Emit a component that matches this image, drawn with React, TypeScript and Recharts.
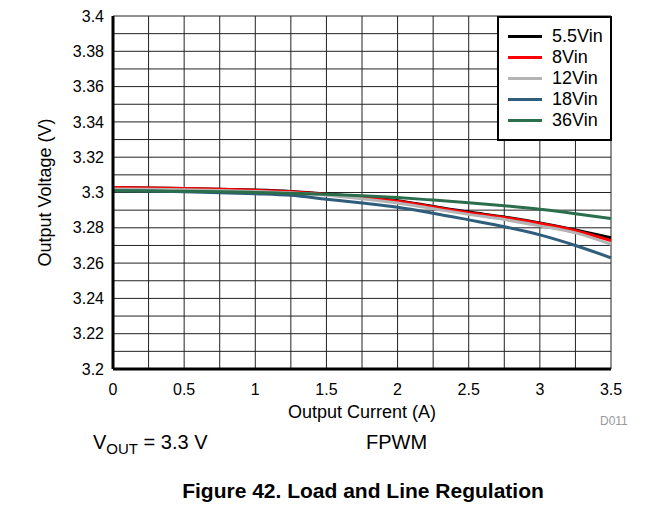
import React from "react";
import {
    LineChart,
    Line,
    XAxis,
    YAxis,
    CartesianGrid,
    Legend,
} from "recharts";

// output current (A)
const current = [0, 0.25, 0.5, 0.75, 1, 1.25, 1.5, 1.75, 2, 2.25, 2.5, 2.75, 3, 3.25, 3.5];

// output voltage (V) per input voltage
const vin5v5 = [3.3028, 3.3026, 3.3023, 3.3019, 3.3014, 3.3006, 3.2992, 3.2974, 3.2954, 3.2921, 3.2889, 3.2861, 3.2827, 3.2787, 3.2744];
const vin8 = [3.3028, 3.3026, 3.3023, 3.3019, 3.3013, 3.3004, 3.299, 3.2971, 3.295, 3.2918, 3.2886, 3.2858, 3.2824, 3.2783, 3.2727];
const vin12 = [3.302, 3.3018, 3.3015, 3.3011, 3.3006, 3.2998, 3.2984, 3.2965, 3.294, 3.2908, 3.2876, 3.2847, 3.2811, 3.2771, 3.2707];
const vin18 = [3.301, 3.3008, 3.3004, 3.2999, 3.2993, 3.2984, 3.2962, 3.2941, 3.2917, 3.2883, 3.2845, 3.2806, 3.276, 3.27, 3.263];
const vin36 = [3.301, 3.3009, 3.3007, 3.3004, 3.3, 3.2995, 3.299, 3.2982, 3.2971, 3.2957, 3.2942, 3.2925, 3.2905, 3.288, 3.2852];

const seriesNames = ["5.5Vin", "8Vin", "12Vin", "18Vin", "36Vin"];
const seriesColors = ["#000000", "#ff0000", "#b4b4b4", "#2f5d7c", "#2b6e4c"];

const xTicks = [0, 0.25, 0.5, 0.75, 1, 1.25, 1.5, 1.75, 2, 2.25, 2.5, 2.75, 3, 3.25, 3.5];
const yTicks = [3.2, 3.21, 3.22, 3.23, 3.24, 3.25, 3.26, 3.27, 3.28, 3.29, 3.3, 3.31, 3.32, 3.33, 3.34, 3.35, 3.36, 3.37, 3.38, 3.39, 3.4];

const data = current.map((c, i) => ({
    current: c,
    s0: vin5v5[i],
    s1: vin8[i],
    s2: vin12[i],
    s3: vin18[i],
    s4: vin36[i],
}));

const font = "'Liberation Sans', Arial, sans-serif";

const LegendBox = ({payload}: any) => (
    <div
        style={{
            background: "#fff",
            border: "2px solid #000",
            padding: "8px 0 8px 9px",
            fontFamily: font,
            fontSize: 18,
            color: "#000",
            boxSizing: "border-box",
            width: 115,
        }}
    >
        {(payload || []).map((e: any) => (
            <div key={e.value} style={{display: "flex", alignItems: "center", height: 21}}>
                <span style={{width: 34, height: 3, background: e.color, marginRight: 10}}/>
                <span>{e.value}</span>
            </div>
        ))}
    </div>
);

const App = () => {
    const fmtX = (v: number) => (Math.round(v * 4) % 2 === 0 ? String(v) : "");
    const fmtY = (v: number) => (Math.round(v * 100) % 2 === 0 ? String(+v.toFixed(2)) : "");

    return (
        <div style={{position: "absolute", left: 0, top: 0, width: 669, height: 519, background: "#fff", fontFamily: font}}>
            <LineChart
                width={669}
                height={519}
                data={data}
                margin={{top: 16, right: 58, left: 30, bottom: 100}}
            >
                <CartesianGrid stroke="#222" strokeWidth={1}/>
                <XAxis
                    dataKey="current"
                    type="number"
                    domain={[0, 3.5]}
                    ticks={xTicks}
                    tickFormatter={fmtX}
                    tickLine={false}
                    tickMargin={9}
                    height={50}
                    axisLine={{stroke: "#000", strokeWidth: 3}}
                    tick={{fill: "#000", fontSize: 16, fontFamily: font}}
                    label={{value: "Output Current (A)", position: "insideBottom", offset: 1, fill: "#000", fontSize: 18, fontFamily: font}}
                />
                <XAxis
                    xAxisId="top"
                    orientation="top"
                    type="number"
                    domain={[0, 3.5]}
                    height={0}
                    tick={false}
                    tickLine={false}
                    axisLine={{stroke: "#000", strokeWidth: 3}}
                />
                <YAxis
                    type="number"
                    domain={[3.2, 3.4]}
                    ticks={yTicks}
                    tickFormatter={fmtY}
                    tickLine={false}
                    tickMargin={3}
                    width={83}
                    allowDataOverflow
                    axisLine={{stroke: "#000", strokeWidth: 3}}
                    tick={{fill: "#000", fontSize: 16, fontFamily: font}}
                    label={{
                        value: "Output Voltage (V)",
                        angle: -90,
                        position: "insideLeft",
                        offset: 15,
                        fill: "#000",
                        fontSize: 18,
                        fontFamily: font,
                        style: {textAnchor: "middle"},
                    }}
                />
                <YAxis
                    yAxisId="right"
                    orientation="right"
                    type="number"
                    domain={[3.2, 3.4]}
                    width={0}
                    tick={false}
                    tickLine={false}
                    axisLine={{stroke: "#000", strokeWidth: 3}}
                />
                <Legend
                    layout="horizontal"
                    verticalAlign="middle"
                    align="center"
                    itemSorter={(item: any) => seriesNames.indexOf(item.value)}
                    content={<LegendBox/>}
                    wrapperStyle={{left: 497, top: 16, width: 115}}
                />
                {seriesNames.map((name, i) => (
                    <Line
                        key={name}
                        name={name}
                        dataKey={`s${i}`}
                        type="monotone"
                        stroke={seriesColors[i]}
                        strokeWidth={3}
                        dot={false}
                        isAnimationActive={false}
                    />
                ))}
            </LineChart>

            <div style={{position: "absolute", left: 600, top: 414, fontSize: 12, color: "#999"}}>D011</div>
            <div style={{position: "absolute", left: 93, top: 431, fontSize: 20, color: "#000", whiteSpace: "nowrap"}}>
                V<sub style={{fontSize: 15}}>OUT</sub> = 3.3 V
            </div>
            <div style={{position: "absolute", left: 366, top: 431, fontSize: 20, color: "#000"}}>FPWM</div>
            <div
                style={{
                    position: "absolute",
                    left: 0,
                    width: 726,
                    top: 479,
                    textAlign: "center",
                    fontSize: 21,
                    fontWeight: "bold",
                    color: "#000",
                }}
            >
                Figure 42. Load and Line Regulation
            </div>
        </div>
    );
};

export default App;
